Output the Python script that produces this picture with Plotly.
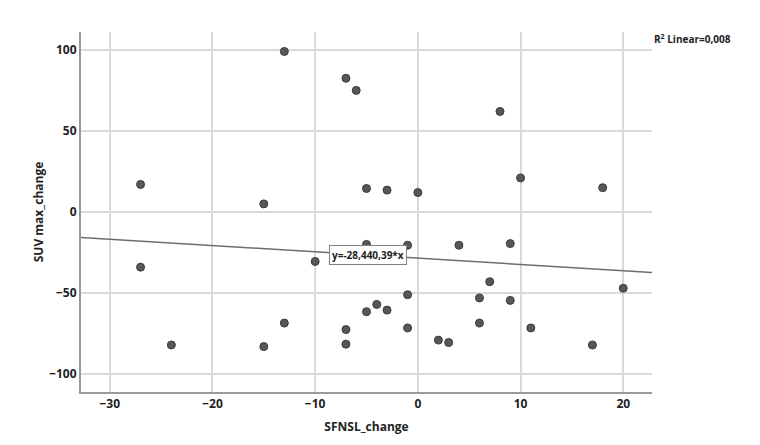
import plotly.graph_objs as go

# SFNSL change vs SUV max change
sfnsl_change = [-13, -7, -6, -27, -15, -5, 8, -3, 0, 10, 18,
                -27, -10, -5, -4, -5, -7, -7, -13, -24, -15,
                -1, 4, 9, 7, 20, -1, 6, 9, -3, -1, 6, 11, 2, 3, 17]
suv_max_change = [99, 82.5, 75, 17, 5, 14.5, 62, 13.5, 12, 21, 15,
                  -34, -30.5, -20, -57, -61.5, -72.5, -81.5, -68.5, -82, -83,
                  -20.5, -20.5, -19.5, -43, -47, -51, -53, -54.5, -60.5, -71.5, -68.5, -71.5, -79, -80.5, -82]

# fit line
intercept = -28.44
slope = -0.39
x_range = [-32.8, 22.8]
y_range = [-111, 111]

x_ticks = [-30, -20, -10, 0, 10, 20]
y_ticks = [-100, -50, 0, 50, 100]

font = 'Open Sans'
grid = '#d9d9d9'

points = go.Scatter(
    x=sfnsl_change, y=suv_max_change,
    mode='markers',
    marker=dict(color='#5a5657', size=8, line=dict(color='#3c3a3b', width=1)),
    showlegend=False,
)

fit_line = go.Scatter(
    x=x_range, y=[intercept + slope * v for v in x_range],
    mode='lines',
    line=dict(color='#6e6e6e', width=1.5),
    showlegend=False,
)

fig = go.Figure(data=[points, fit_line])
# page body adds an 8px margin, so the figure is a little smaller
fig.update_layout(
    width=752, height=437,
    margin=dict(l=73, r=108, t=24, b=53),
    paper_bgcolor='white', plot_bgcolor='white',
    font=dict(family=font, size=12, color='#222222'),
)
fig.update_xaxes(
    range=x_range, tickvals=x_ticks,
    showgrid=True, gridcolor=grid, gridwidth=2, zeroline=False,
    showline=True, linecolor='#9a9a9a', linewidth=2,
    ticks='', tickfont=dict(size=12, family=font, weight='bold'),
    title=dict(text='SFNSL_change', font=dict(size=12, family=font, weight='bold'), standoff=11),
)
fig.update_yaxes(
    range=y_range, tickvals=y_ticks,
    showgrid=True, gridcolor=grid, gridwidth=2, zeroline=False,
    showline=True, linecolor='#9a9a9a', linewidth=2,
    ticks='', tickfont=dict(size=12, family=font, weight='bold'),
    title=dict(text='SUV max_change', font=dict(size=12, family=font, weight='bold'), standoff=3),
)

fig.add_annotation(
    x=-4.9, y=-26.5, xref='x', yref='y',
    text='y=-28,440,39*x', showarrow=False,
    font=dict(size=10, family=font, weight='bold', color='#222222'),
    bgcolor='white', bordercolor='#808080', borderwidth=1, borderpad=2,
)
fig.add_annotation(
    x=1.0, y=1.0, xref='paper', yref='paper',
    xanchor='left', yanchor='top', xshift=0, yshift=2,
    text='R<sup>2</sup> Linear=0,008', showarrow=False,
    font=dict(size=10, family=font, weight='bold', color='#222222'),
)

fig.write_html("out.html")
